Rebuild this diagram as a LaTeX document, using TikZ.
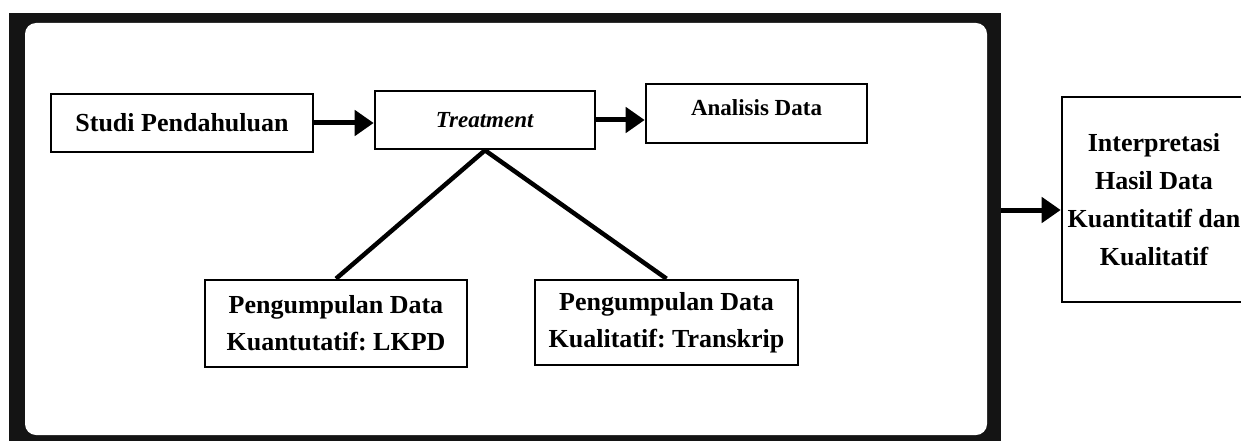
\documentclass[tikz,border=0pt]{standalone}
\usepackage{fontspec}
\setmainfont{Liberation Serif}
\usetikzlibrary{arrows.meta}
\frenchspacing
\tikzset{
  box/.style={draw, line width=2.6pt, inner sep=0pt, align=center, font=\bfseries\fontsize{26}{37}\selectfont},
  smallbox/.style={box, font=\bfseries\fontsize{23}{30}\selectfont},
  arr/.style={line width=5pt, -{Triangle[length=19pt,width=25pt]}},
  link/.style={line width=4.5pt}
}
\begin{document}
\begin{tikzpicture}[x=1pt,y=-1pt]
\useasboundingbox (0,0) rectangle (1241,441);
\clip (0,0) rectangle (1241,441);
\fill[white] (0,0) rectangle (1241,441);
% frame
\fill[black!92] (9,13) rectangle (1001,460);
\fill[white, rounded corners=11pt] (25,23) rectangle (987,435);
% nodes
\node[box, minimum width=262pt, minimum height=58pt] (studi) at (182,123) {Studi Pendahuluan};
\node[smallbox, minimum width=220pt, minimum height=58pt] (treat) at (485,120) {\textit{Treatment}};
\node[smallbox, minimum width=221pt, minimum height=59pt, text depth=12pt] (anal) at (756.5,113.5) {Analisis Data};
\node[box, minimum width=262pt, minimum height=87pt] (lkpd) at (336,323.5) {Pengumpulan Data\\Kuantutatif: LKPD};
\node[box, minimum width=263pt, minimum height=85pt] (trans) at (666.5,322.5) {Pengumpulan Data\\Kualitatif: Transkrip};
\node[box, minimum width=184pt, minimum height=205pt, font=\bfseries\fontsize{26}{38}\selectfont] (interp) at (1154,199.5) {Interpretasi\\Hasil Data\\Kuantitatif dan\\Kualitatif};
\coordinate (frameR) at (1001,210);
% connectors
\draw[arr] (studi.east) -- (studi.east -| treat.west);
\draw[arr] (treat.east) -- (treat.east -| anal.west);
\draw[arr] (frameR) -- (frameR -| interp.west);
\draw[link] (treat.south) -- (lkpd.north);
\draw[link] (treat.south) -- (trans.north);
\end{tikzpicture}
\end{document}
